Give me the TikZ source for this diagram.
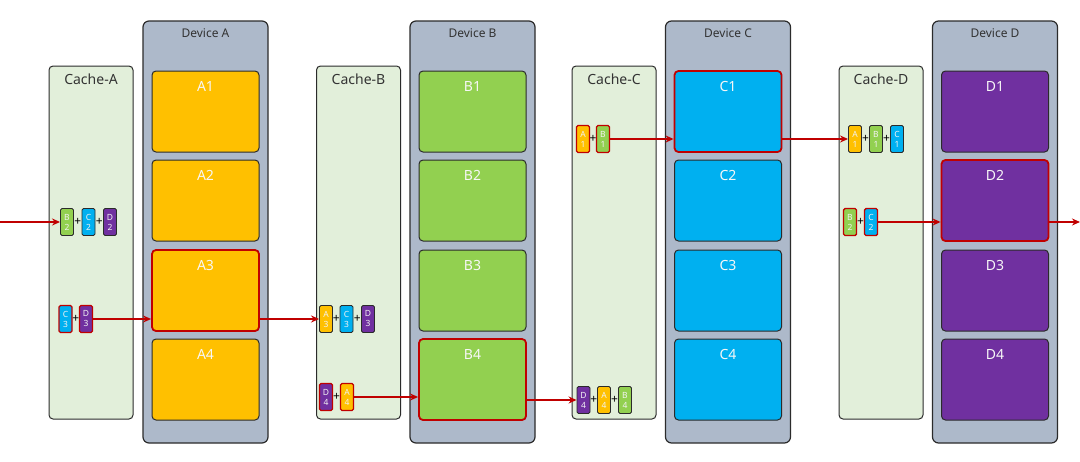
\documentclass[tikz,border=0pt]{standalone}
\usepackage{fontspec}
\setmainfont{Noto Sans}
\usetikzlibrary{arrows.meta}
\definecolor{devfill}{HTML}{ADB9CA}
\definecolor{cachefill}{HTML}{E2EFDA}
\definecolor{cor}{HTML}{FFC000}
\definecolor{cgr}{HTML}{92D050}
\definecolor{cbl}{HTML}{00B0F0}
\definecolor{cpu}{HTML}{7030A0}
\definecolor{hot}{HTML}{C00000}
\definecolor{edge}{HTML}{2B2B2B}
\tikzset{
  device/.style={draw=edge, line width=1.2, fill=devfill, rounded corners=6,
    minimum width=125, minimum height=422, inner sep=0},
  cache/.style={draw=edge, line width=1.0, fill=cachefill, rounded corners=4,
    minimum width=84, minimum height=353, inner sep=0},
  block/.style={draw=edge, line width=1.0, rounded corners=4,
    minimum width=107, minimum height=81, inner sep=0},
  hotblock/.style={draw=hot, line width=1.8},
  hlA3/.style={hotblock}, hlB4/.style={hotblock}, hlC1/.style={hotblock}, hlD2/.style={hotblock},
  tile/.style={draw=edge, line width=0.9, rounded corners=1.5, minimum width=13,
    minimum height=27, inner sep=0, align=center,
    font=\fontsize{8.5}{10}\selectfont, text=white!90!gray},
  hottile/.style={tile, draw=hot, line width=1.4},
  plus/.style={inner sep=0, font=\fontsize{12}{12}\selectfont\bfseries, text=black},
  arr/.style={draw=hot, line width=1.6, -{Stealth[length=8pt,width=7pt]}},
}
\begin{document}
\begin{tikzpicture}[x=1pt,y=-1pt]
\useasboundingbox (0,0) rectangle (1080,461);
% caches
\foreach \n/\x in {A/91, B/358.5, C/614, D/881}{
  \node[cache, label={[anchor=center, yshift=-14pt, font=\fontsize{14}{16}\selectfont, text=black!80]north:Cache-\n}] (cache\n) at (\x,242.5) {};
}
% devices and blocks
\foreach \n/\x/\col in {A/205.5/cor, B/472.5/cgr, C/728/cbl, D/995/cpu}{
  \node[device, label={[anchor=center, yshift=-13pt, font=\fontsize{12}{14}\selectfont, text=black!80]north:Device \n}] (dev\n) at (\x,232) {};
  \foreach \i/\y in {1/111.5, 2/200.5, 3/290.5, 4/379.5}{
    \node[block, fill=\col, hl\n\i/.try, label={[anchor=center, yshift=-16pt, font=\fontsize{14}{16}\selectfont, text=white!94!gray]north:\n\i}] (\n\i) at (\x,\y) {};
  }
}
% Cache-A tiles
\node[tile, fill=cgr] (aB2) at (67,222) {B\\2};
\node[tile, fill=cbl] (aC2) at (88.5,222) {C\\2};
\node[tile, fill=cpu] (aD2) at (110,222) {D\\2};
\node[hottile, fill=cbl] (aC3) at (65.5,319) {C\\3};
\node[hottile, fill=cpu] (aD3) at (86,319) {D\\3};
\path (aB2) -- node[plus]{+} (aC2);
\path (aC2) -- node[plus]{+} (aD2);
\path (aC3) -- node[plus]{+} (aD3);
% Cache-B tiles
\node[tile, fill=cor] (bA3) at (326,319) {A\\3};
\node[tile, fill=cbl] (bC3) at (346.5,319) {C\\3};
\node[tile, fill=cpu] (bD3) at (368,319) {D\\3};
\node[hottile, fill=cpu] (bD4) at (326,397) {D\\4};
\node[hottile, fill=cor] (bA4) at (347,397) {A\\4};
\path (bA3) -- node[plus]{+} (bC3);
\path (bC3) -- node[plus]{+} (bD3);
\path (bD4) -- node[plus]{+} (bA4);
% Cache-C tiles
\node[hottile, fill=cor] (cA1) at (583,139) {A\\1};
\node[hottile, fill=cgr] (cB1) at (603,139) {B\\1};
\node[tile, fill=cpu] (cD4) at (583.5,400) {D\\4};
\node[tile, fill=cor] (cA4) at (604,400) {A\\4};
\node[tile, fill=cgr] (cB4) at (625,400) {B\\4};
\path (cA1) -- node[plus]{+} (cB1);
\path (cD4) -- node[plus]{+} (cA4);
\path (cA4) -- node[plus]{+} (cB4);
% Cache-D tiles
\node[tile, fill=cor] (dA1) at (855,139) {A\\1};
\node[tile, fill=cgr] (dB1) at (876,139) {B\\1};
\node[tile, fill=cbl] (dC1) at (897,139) {C\\1};
\node[hottile, fill=cgr] (dB2) at (850,222) {B\\2};
\node[hottile, fill=cbl] (dC2) at (871,222) {C\\2};
\path (dA1) -- node[plus]{+} (dB1);
\path (dB1) -- node[plus]{+} (dC1);
\path (dB2) -- node[plus]{+} (dC2);
% arrows
\coordinate (inA) at (0,222);
\coordinate (outD) at (1080,222);
\draw[arr] (inA) -- (aB2.west);
\draw[arr] (aD3.east) -- (aD3.east -| A3.west);
\draw[arr] (A3.east |- bA3.west) -- (bA3.west);
\draw[arr] (bA4.east) -- (bA4.east -| B4.west);
\draw[arr] (B4.east |- cD4.west) -- (cD4.west);
\draw[arr] (cB1.east) -- (cB1.east -| C1.west);
\draw[arr] (C1.east |- dA1.west) -- (dA1.west);
\draw[arr] (dC2.east) -- (dC2.east -| D2.west);
\draw[arr] (D2.east |- outD) -- (outD);
\end{tikzpicture}
\end{document}
